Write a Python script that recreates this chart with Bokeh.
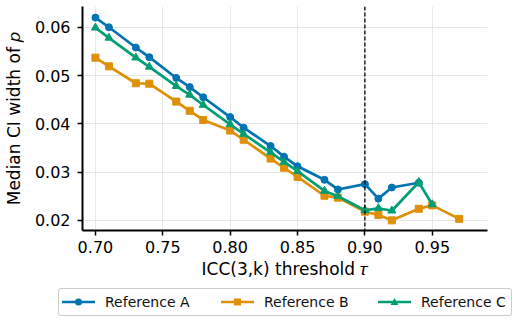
from bokeh.plotting import figure
from bokeh.layouts import column
from bokeh.models import (FixedTicker, NumeralTickFormatter, Span, Range1d, Div)
from bokeh.embed import file_html
from bokeh.resources import INLINE

# ---- data ----
x_a = [0.70, 0.71, 0.73, 0.74, 0.76, 0.77, 0.78, 0.80, 0.81, 0.83, 0.84, 0.85, 0.87, 0.88, 0.90, 0.91, 0.92, 0.94]
y_a = [0.0620, 0.0600, 0.0558, 0.0538, 0.0495, 0.0476, 0.0455, 0.0414, 0.0392, 0.0354, 0.0332, 0.0312, 0.0284, 0.0264, 0.0275, 0.0245, 0.0268, 0.0278]

x_b = [0.70, 0.71, 0.73, 0.74, 0.76, 0.77, 0.78, 0.80, 0.81, 0.83, 0.84, 0.85, 0.87, 0.88, 0.90, 0.91, 0.92, 0.94, 0.95, 0.97]
y_b = [0.0537, 0.0519, 0.0484, 0.0483, 0.0446, 0.0427, 0.0408, 0.0386, 0.0367, 0.0328, 0.0309, 0.0290, 0.0251, 0.0247, 0.0218, 0.0211, 0.0200, 0.0224, 0.0231, 0.0203]

x_c = [0.70, 0.71, 0.73, 0.74, 0.76, 0.77, 0.78, 0.80, 0.81, 0.83, 0.84, 0.85, 0.87, 0.88, 0.90, 0.91, 0.92, 0.94, 0.95]
y_c = [0.0599, 0.0578, 0.0537, 0.0518, 0.0478, 0.0460, 0.0439, 0.0399, 0.0379, 0.0341, 0.0321, 0.0302, 0.0261, 0.0250, 0.0221, 0.0225, 0.0220, 0.0279, 0.0233]

series_names = ["Reference A", "Reference B", "Reference C"]
series_colors = ["#0173b2", "#de8f05", "#029e73"]
series_markers = ["circle", "square", "triangle"]
threshold = 0.90
x_ticks = [0.70, 0.75, 0.80, 0.85, 0.90, 0.95]
y_ticks = [0.02, 0.03, 0.04, 0.05, 0.06]

FONT = "DejaVu Sans"

p = figure(frame_width=405, frame_height=224, output_backend="svg", toolbar_location=None,
           x_range=Range1d(0.6904, 0.991), y_range=Range1d(0.0179, 0.0643),
           min_border_left=80, min_border_right=15, min_border_top=6, min_border_bottom=58)
p.outline_line_color = None
p.background_fill_color = "white"

for ax in (p.xaxis[0], p.yaxis[0]):
    ax.axis_line_width = 2
    ax.axis_line_color = "black"
    ax.major_tick_line_width = 1.5
    ax.major_tick_line_color = "black"
    ax.major_tick_out = 5
    ax.major_tick_in = 0
    ax.minor_tick_line_color = None
    ax.major_label_text_font = FONT
    ax.major_label_text_font_size = "16px"
    ax.major_label_text_color = "black"
    ax.axis_label_text_font = FONT
    ax.axis_label_text_font_size = "17px"
    ax.axis_label_text_font_style = "normal"
    ax.axis_label_text_color = "black"
    ax.formatter = NumeralTickFormatter(format="0.00")

p.xaxis[0].ticker = FixedTicker(ticks=x_ticks)
p.yaxis[0].ticker = FixedTicker(ticks=y_ticks)
p.xaxis[0].major_label_standoff = 5
p.yaxis[0].major_label_standoff = 7
p.xaxis[0].axis_label = "ICC(3,k) threshold \U0001D70F"
p.yaxis[0].axis_label = "Median CI width of \U0001D45D"
p.xaxis[0].axis_label_standoff = 3
p.yaxis[0].axis_label_standoff = 8

p.xgrid.grid_line_color = "#e6e6e6"
p.ygrid.grid_line_color = "#e6e6e6"
p.xgrid.grid_line_width = 1
p.ygrid.grid_line_width = 1

p.add_layout(Span(location=threshold, dimension="height", line_color="black",
                  line_width=1.3, line_dash="4 2"))

data = [(x_a, y_a, 7), (x_b, y_b, 7), (x_c, y_c, 8)]
for (xs, ys, size), marker, color in zip(data, series_markers, series_colors):
    p.line(xs, ys, line_color=color, line_width=2.7)
    p.scatter(xs, ys, marker=marker, size=size, fill_color=color, line_color=color)

# ---- legend strip (HTML) below the plot ----
def swatch(marker, color):
    if marker == "circle":
        m = f'<circle cx="16.5" cy="10" r="3.5" fill="{color}"/>'
    elif marker == "square":
        m = f'<rect x="13" y="6.5" width="7" height="7" fill="{color}"/>'
    else:
        m = f'<polygon points="16.5,6 20.5,13 12.5,13" fill="{color}"/>'
    return (f'<svg width="33" height="20" style="position:absolute;left:0;top:0">'
            f'<line x1="0" y1="10" x2="33" y2="10" stroke="{color}" stroke-width="2.7"/>{m}</svg>')

entry_left = [3, 162, 319]
entries = ""
for name, color, marker, left in zip(series_names, series_colors, series_markers, entry_left):
    entries += (f'<div style="position:absolute;left:{left}px;top:3px;height:20px;width:150px">'
                f'{swatch(marker, color)}'
                f'<span style="position:absolute;left:43px;top:0;line-height:20px;'
                f'font-family:\'{FONT}\';font-size:14px;color:#111;white-space:nowrap">{name}</span></div>')

html = (f'<div style="position:relative;width:514px;height:30px;margin:0;padding:0">'
        f'<div style="position:absolute;left:58px;top:0;width:454px;height:28px;box-sizing:border-box;'
        f'border:1px solid #cccccc;border-radius:3px;background:white">{entries}</div></div>')

leg = Div(text=html, width=514, height=30, margin=0)

layout = column(p, leg, spacing=0)
open("out.html", "w").write(file_html(layout, INLINE))
